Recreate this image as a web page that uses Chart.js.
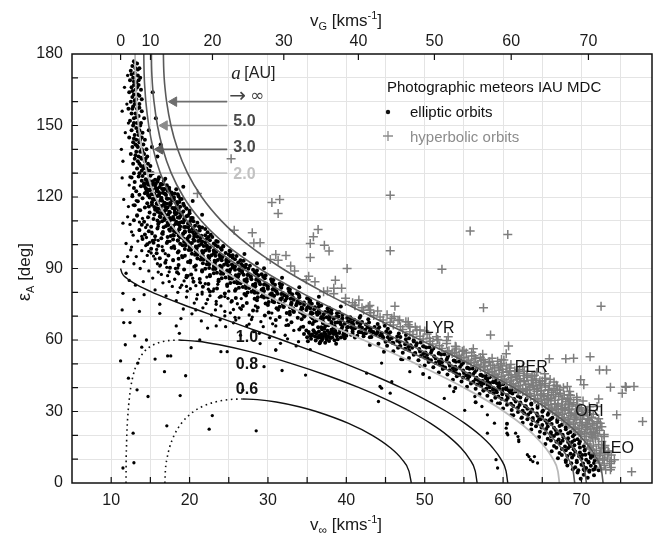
<!DOCTYPE html>
<html>
<head>
<meta charset="utf-8">
<script src="https://cdn.jsdelivr.net/npm/chart.js@4.4.1/dist/chart.umd.min.js"></script>
<style>
  html, body { margin: 0; padding: 0; background: #fff; }
  #wrap { width: 664px; height: 539px; }
</style>
</head>
<body>
<div id="wrap"><canvas id="chart" width="664" height="539"></canvas></div>
<script>
// Meteor radiants: elongation from apex vs. pre-atmospheric velocity

// Axis ticks
const bottomTicks = [10, 20, 30, 40, 50, 60, 70];
const leftTicks = [0, 30, 60, 90, 120, 150, 180];
const topTicksVG = [0, 10, 20, 30, 40, 50, 60, 70];
const escapeVelocity = 11.2;
const gridV = [10, 15, 20, 25, 30, 35, 40, 45, 50, 55, 60, 65, 70, 75];
const gridE = [10, 20, 30, 40, 50, 60, 70, 80, 90, 100, 110, 120, 130, 140, 150, 160, 170];

// Curves of constant semi-major axis a [AU]: [v_inf, eps_A]
const curveInf = [[16.66,180],[16.69,175],[16.76,170],[16.89,165],[17.07,160],[17.62,150],[18.48,140],[19.74,130],[21.55,120],[24.06,110],[27.44,100],[31.82,90],[37.13,80],[43.14,70],[49.47,60],[55.68,50],[61.36,40],[66.14,30],[69.75,20],[72.0,10],[72.57,5],[72.76,0]];
const curve5 = [[15.13,180],[15.15,175],[15.21,170],[15.31,165],[15.46,160],[15.9,150],[16.6,140],[17.66,130],[19.23,120],[21.48,110],[24.65,100],[28.9,90],[34.19,80],[40.29,70],[46.77,60],[53.14,50],[58.96,40],[63.86,30],[67.55,20],[69.85,10],[70.43,5],[70.63,0]];
const curve3 = [[14.16,180],[14.18,175],[14.22,170],[14.31,165],[14.42,160],[14.79,150],[15.37,140],[16.27,130],[17.64,120],[19.68,110],[22.65,100],[26.77,90],[32.05,80],[38.23,70],[44.82,60],[51.33,50],[57.26,40],[62.25,30],[66.01,20],[68.35,10],[68.94,5],[69.14,0]];
const curve2 = [[13.05,180],[13.06,175],[13.09,170],[13.15,165],[13.23,160],[13.48,150],[13.9,140],[14.57,130],[15.63,120],[17.32,110],[19.95,100],[23.85,90],[29.1,80],[35.4,70],[42.19,60],[48.9,50],[55.01,40],[60.14,30],[63.99,20],[66.38,10],[66.99,5],[67.19,0]];
const curve1 = [[11.2,90],[11.39,88],[11.95,86],[12.35,85],[13.35,83],[15.25,80],[16.7,78],[19.05,75],[23.25,70],[27.55,65],[31.82,60],[35.95,55],[39.89,50],[43.58,45],[46.98,40],[50.06,35],[52.78,30],[55.13,25],[57.08,20],[58.61,15],[59.72,10],[60.38,5],[60.6,0]];
const curve08Solid = [[18.63,60],[20.96,59.5],[23.81,58],[27.81,55],[33.12,50],[37.65,45],[41.63,40],[45.13,35],[48.17,30],[50.75,25],[52.88,20],[54.54,15],[55.73,10],[56.45,5],[56.69,0]];
const curve08Dotted = [[11.89,0],[11.9,5],[11.91,10],[11.95,15],[11.99,20],[12.06,25],[12.16,30],[12.3,35],[12.49,40],[12.79,45],[13.27,50],[14.19,55],[15.39,58],[16.8,59.5],[18.63,60]];
const curve06Solid = [[26.77,35.26],[28.64,35],[31.06,34],[33.98,32],[36.17,30],[40.29,25],[43.31,20],[45.53,15],[47.08,10],[47.99,5],[48.29,0]];
const curve06Dotted = [[16.85,0],[16.91,5],[17.11,10],[17.46,15],[18.03,20],[18.94,25],[20.52,30],[21.57,32],[23.28,34],[25.07,35],[26.77,35.26]];

// Label arrows (head first)
const arrowInf = [[18.0,160],[24.8,160]];
const arrow5 = [[16.8,150],[24.8,150]];
const arrow3 = [[16.2,140],[24.8,140]];
const arrow2 = [[14.6,130],[24.8,130]];

// Elliptic orbits
const ellipticTop = [[12.9,177],[13.3,176],[12.7,175],[13.1,174],[13.6,174],[12.5,173],[13.0,172],[13.4,171],[12.8,170],[13.7,170],[12.4,169],[13.2,168],[12.9,167],[13.5,167],[12.6,166],[13.1,165],[13.8,165],[12.3,164],[12.9,163],[13.4,163],[12.7,162],[13.2,161],[13.9,161],[12.5,160],[13.0,159],[13.6,159],[12.8,158],[13.3,157],[12.2,157],[13.9,156],[12.6,155],[13.1,155],[13.5,154],[12.9,153],[14.2,153],[12.4,152],[13.3,151],[13.8,151],[12.8,150],[13.2,149],[13.6,148],[12.6,148],[14.0,147],[13.0,146],[13.5,146],[12.3,145],[13.9,145],[13.2,144],[14.3,144],[12.8,143],[13.6,143],[13.1,142],[14.1,142],[13.4,141],[12.7,141],[13.9,140],[14.5,140],[13.2,139],[13.7,139],[12.5,138],[14.2,138],[13.5,137],[14.6,137],[13.0,136],[13.9,136],[14.3,135],[13.4,135],[12.8,134],[14.7,134],[13.8,133],[14.2,133],[15.0,133],[13.3,132],[14.5,132],[13.9,131],[14.9,131],[12.9,130],[14.3,130],[15.3,130],[13.6,130],[15.7,153],[15.3,164],[16.3,142],[15.9,137],[14.8,148],[15.2,141],
[13.0,176.5],[13.4,173.5],[12.6,171.5],[13.5,169],[12.9,168.5],[13.3,166],[12.7,164.5],[13.6,162.5],[13.0,160.5],[12.7,157],[13.6,157.5],[13.2,153.5],[12.9,151],[13.7,150],[13.4,147.5],[12.9,144.5],[13.7,144],[13.3,141.5],[14.0,139],[13.1,137.5],[13.8,136.5],[14.4,136],[13.6,134],[14.1,132],[14.7,131],[15.1,129.6],[14.0,128.8],[13.9,126.8],[14.2,124.6],[14.5,122.3]];
const ellipticBand = [[13.5,128.6],[14.4,127.5],[15.0,128.9],[15.6,127.2],[16.1,128.3],[16.9,127.7],[12.6,128.2],
[13.0,126.3],[14.2,125.4],[14.8,126.8],[15.4,125.6],[15.9,126.5],[16.5,125.2],[14.6,126.0],
[13.8,124.5],[14.5,123.2],[15.1,124.9],[15.7,123.6],[16.2,124.2],[16.8,123.4],[12.9,123.8],[19.2,124.3],
[13.2,122.4],[14.3,121.6],[14.9,122.8],[15.5,121.3],[16.0,122.2],[16.6,121.8],[17.2,122.6],[18.1,121.5],
[12.7,120.3],[14.0,119.5],[14.7,120.7],[15.3,119.2],[15.9,120.4],[16.4,119.6],[17.0,120.8],[17.6,119.3],[18.6,120.2],[13.6,120.9],
[13.4,118.2],[14.6,117.4],[15.4,118.8],[15.9,117.6],[16.5,118.4],[17.1,117.2],[17.8,118.6],[18.7,117.9],[20.4,118.3],
[13.0,116.5],[14.3,115.6],[15.2,116.8],[15.8,115.3],[16.4,116.2],[16.9,115.8],[17.5,116.6],[18.2,115.4],[19.3,116.3],[14.8,116.0],
[13.7,114.4],[14.9,113.5],[15.6,114.7],[16.2,113.3],[16.8,114.1],[17.4,113.8],[18.1,114.6],[18.9,113.2],[20.0,114.2],
[13.3,112.3],[14.7,111.5],[15.5,112.7],[16.3,111.6],[16.9,112.4],[17.5,111.2],[18.2,112.8],[18.8,111.9],[19.8,112.1],[21.6,112.6],
[12.9,110.2],[14.2,109.6],[15.4,110.8],[16.1,109.3],[16.8,110.4],[17.4,109.7],[18.0,110.6],[18.7,109.2],[19.4,110.3],[20.5,109.8],[15.9,110.1],
[13.9,108.4],[15.1,107.5],[16.0,108.7],[16.7,107.3],[17.3,108.2],[17.9,107.8],[18.6,108.6],[19.3,107.4],[20.1,108.3],[21.2,107.6],
[13.6,106.2],[14.8,105.6],[15.9,106.8],[16.6,105.3],[17.4,106.4],[18.0,105.7],[18.7,106.5],[19.4,105.2],[20.0,106.1],[20.8,105.8],[22.0,106.6],
[14.3,104.3],[15.6,103.5],[16.5,104.7],[17.2,103.2],[17.9,104.1],[18.6,103.8],[19.2,104.6],[19.9,103.3],[20.6,104.4],[21.5,103.7],[22.7,104.2],[17.6,103.6],
[14.0,102.4],[15.3,101.6],[16.4,102.7],[17.2,101.3],[17.9,102.2],[18.5,101.7],[19.2,102.6],[19.8,101.4],[20.5,102.3],[21.3,101.8],[22.2,102.5],[23.4,101.5],
[14.6,100.2],[16.0,99.5],[17.1,100.7],[18.0,99.3],[18.8,100.4],[19.5,99.8],[20.1,100.6],[20.8,99.2],[21.5,100.3],[22.2,99.7],[23.1,100.5],[24.3,99.4],[15.4,100.8],
[15.1,98.3],[16.6,97.6],[17.7,98.7],[18.6,97.2],[19.4,98.2],[20.2,97.8],[20.9,98.6],[21.6,97.3],[22.3,98.4],[23.1,97.7],[24.0,98.5],[25.1,97.4],
[15.8,96.4],[17.3,95.5],[18.5,96.7],[19.4,95.3],[20.3,96.2],[21.0,95.8],[21.7,96.6],[22.4,95.2],[23.1,96.3],[23.8,95.7],[24.6,96.5],[25.5,95.6],[27.0,96.1],
[16.2,94.3],[17.9,93.6],[19.1,94.7],[20.1,93.3],[21.0,94.2],[21.8,93.8],[22.5,94.6],[23.2,93.2],[23.9,94.4],[24.7,93.7],[25.5,94.5],[26.5,93.5],[18.6,94.1],
[16.9,92.4],[18.6,91.5],[19.8,92.7],[20.8,91.3],[21.7,92.2],[22.5,91.8],[23.2,92.6],[23.9,91.2],[24.7,92.3],[25.4,91.7],[26.2,92.5],[27.2,91.6],[28.6,92.2],
[17.5,90.3],[19.3,89.6],[20.6,90.7],[21.6,89.3],[22.5,90.2],[23.3,89.8],[24.0,90.6],[24.8,89.2],[25.5,90.4],[26.3,89.7],[27.1,90.5],[28.1,89.5],[22.0,89.9],[29.5,90.1],
[18.4,88.4],[20.2,87.5],[21.6,88.7],[22.6,87.3],[23.5,88.2],[24.3,87.8],[25.1,88.6],[25.9,87.2],[26.7,88.3],[27.5,87.7],[28.3,88.5],[29.2,87.6],[23.1,88.0],
[19.6,86.3],[21.3,85.6],[22.6,86.7],[23.7,85.3],[24.6,86.2],[25.4,85.8],[26.2,86.6],[27.0,85.2],[27.8,86.4],[28.6,85.7],[29.4,86.5],[30.4,85.5],[24.1,85.9],[31.8,86.1],
[20.5,84.4],[22.4,83.5],[23.7,84.7],[24.8,83.3],[25.7,84.2],[26.5,83.8],[27.3,84.6],[28.1,83.2],[28.9,84.3],[29.7,83.7],[30.5,84.5],[31.5,83.6],[25.2,83.9],
[21.7,82.3],[23.5,81.6],[24.8,82.7],[25.9,81.3],[26.8,82.2],[27.6,81.8],[28.4,82.6],[29.2,81.2],[30.0,82.4],[30.8,81.7],[31.6,82.5],[32.6,81.5],[26.3,81.9],[34.0,82.1],
[22.6,80.4],[24.5,79.5],[25.8,80.7],[27.0,79.3],[27.9,80.2],[28.7,79.8],[29.5,80.6],[30.3,79.2],[31.1,80.3],[31.9,79.7],[32.7,80.5],[33.7,79.6],[27.4,79.9],
[24.0,78.3],[25.9,77.6],[27.2,78.7],[28.3,77.3],[29.2,78.2],[30.0,77.8],[30.8,78.6],[31.6,77.2],[32.4,78.4],[33.2,77.7],[34.0,78.5],[35.0,77.5],[28.7,77.9],[36.5,78.1],
[25.4,76.4],[27.3,75.5],[28.6,76.7],[29.7,75.3],[30.6,76.2],[31.4,75.8],[32.2,76.6],[33.0,75.2],[33.8,76.3],[34.6,75.7],[35.4,76.5],[36.4,75.6],[30.1,75.9],
[26.8,74.3],[28.7,73.6],[30.0,74.7],[31.1,73.3],[32.0,74.2],[32.8,73.8],[33.6,74.6],[34.4,73.2],[35.2,74.4],[36.0,73.7],[36.8,74.5],[37.8,73.5],[31.5,73.9],[39.3,74.1],
[28.1,72.4],[30.1,71.5],[31.3,72.7],[32.4,71.3],[33.3,72.2],[34.1,71.8],[34.9,72.6],[35.7,71.2],[36.5,72.3],[37.3,71.7],[38.1,72.5],[39.1,71.6],[32.8,71.9],
[29.6,70.3],[31.5,69.6],[32.8,70.7],[33.8,69.3],[34.7,70.2],[35.5,69.8],[36.3,70.6],[37.1,69.2],[37.9,70.4],[38.7,69.7],[39.5,70.5],[40.5,69.5],[41.8,70.1],
[31.0,68.4],[33.0,67.5],[34.3,68.7],[35.3,67.3],[36.2,68.2],[37.0,67.8],[37.8,68.6],[38.6,67.2],[39.4,68.3],[40.2,67.7],[41.0,68.5],[42.0,67.6],
[32.6,66.3],[34.5,65.6],[35.7,66.7],[36.8,65.3],[37.7,66.2],[38.5,65.8],[39.3,66.6],[40.1,65.2],[40.9,66.4],[41.7,65.7],[42.5,66.5],[43.6,65.5],[44.9,66.0],
[34.0,64.4],[35.9,63.5],[37.2,64.7],[38.3,63.3],[39.2,64.2],[40.0,63.8],[40.8,64.6],[41.6,63.2],[42.4,64.3],[43.2,63.7],[44.0,64.5],[45.1,63.6],
[35.6,62.3],[37.4,61.6],[38.7,62.7],[39.7,61.3],[40.6,62.2],[41.4,61.8],[42.2,62.6],[43.0,61.2],[43.8,62.4],[44.6,61.7],[45.4,62.5],[46.5,61.5],[47.6,62.1]];
const ellipticCore = [[14.5,127.1],[15.3,126.6],[16.0,127.4],[16.7,126.8],[14.7,125.2],[15.6,124.7],[16.3,125.5],[17.1,124.9],[14.9,123.1],[15.8,122.5],[16.5,123.4],[17.4,122.9],[18.3,123.2],[15.1,121.2],[16.1,120.6],[16.8,121.5],[17.7,120.9],[15.5,119.1],[16.3,118.6],[17.1,119.4],[18.0,118.9],[19.0,119.2],[15.8,117.2],[16.7,116.7],[17.5,117.5],[18.4,116.9],[16.1,115.1],[17.0,114.6],[17.8,115.4],[18.6,114.8],[19.6,115.2],[16.5,113.2],[17.3,112.7],[18.1,113.5],[19.0,112.9],[16.8,111.1],[17.7,110.6],[18.5,111.4],[19.3,110.8],[20.2,111.2],[17.2,109.2],[18.2,108.7],[19.0,109.5],[19.8,108.9],[17.7,107.1],[18.7,106.6],[19.5,107.4],[20.4,106.8],[21.3,107.2],[18.3,105.2],[19.2,104.7],[20.0,105.5],[20.9,104.9],[18.8,103.1],[19.7,102.6],[20.6,103.4],[21.4,102.8],[22.4,103.2],[19.3,101.2],[20.3,100.7],[21.1,101.5],[22.0,100.9],[20.0,99.1],[20.9,98.6],[21.8,99.4],[22.6,98.8],[23.6,99.2],[20.8,97.2],[21.7,96.7],[22.5,97.5],[23.4,96.9],[21.5,95.1],[22.5,94.6],[23.3,95.4],[24.2,94.8],[25.2,95.2],[22.3,93.2],[23.3,92.7],[24.1,93.5],[25.0,92.9],[23.1,91.1],[24.1,90.6],[24.9,91.4],[25.8,90.8],[26.8,91.2],[24.0,89.2],[25.0,88.7],[25.8,89.5],[26.7,88.9],[25.1,87.1],[26.0,86.6],[26.9,87.4],[27.8,86.8],[28.8,87.2],[26.1,85.2],[27.1,84.7],[27.9,85.5],[28.8,84.9],[27.2,83.1],[28.1,82.6],[29.0,83.4],[29.9,82.8],[30.9,83.2],[28.2,81.2],[29.2,80.7],[30.0,81.5],[30.9,80.9],[29.4,79.1],[30.4,78.6],[31.2,79.4],[32.1,78.8],[33.1,79.2],[30.6,77.2],[31.6,76.7],[32.4,77.5],[33.3,76.9],[31.9,75.1],[32.9,74.6],[33.7,75.4],[34.6,74.8],[35.6,75.2],[33.2,73.2],[34.2,72.7],[35.0,73.5],[35.9,72.9],[34.4,71.1],[35.4,70.6],[36.2,71.4],[37.1,70.8],[38.1,71.2],[35.7,69.2],[36.7,68.7],[37.5,69.5],[38.4,68.9],[37.1,67.1],[38.1,66.6],[38.9,67.4],[39.8,66.8],[40.8,67.2],[38.4,65.2],[39.4,64.7],[40.2,65.5],[41.1,64.9],[39.8,63.1],[40.8,62.6],[41.6,63.4],[42.5,62.8],[43.5,63.2]];
const ellipticDense = [[14.2,125.8],[14.9,125.1],[15.7,125.6],[16.4,125.3],
[14.4,123.8],[15.2,123.1],[15.9,123.6],[16.7,123.3],[17.4,123.9],
[14.6,121.8],[15.4,121.1],[16.2,121.6],[16.9,121.3],[17.7,121.9],[18.5,121.2],
[14.9,119.8],[15.6,119.1],[16.4,119.6],[17.2,119.3],[18.0,119.9],[18.8,119.2],
[15.2,117.8],[16.0,117.1],[16.8,117.6],[17.6,117.3],[18.4,117.9],[19.2,117.2],
[15.5,115.8],[16.3,115.1],[17.2,115.6],[18.0,115.3],[18.8,115.9],[19.6,115.2],
[15.9,113.8],[16.7,113.1],[17.5,113.6],[18.4,113.3],[19.2,113.9],[20.0,113.2],
[16.2,111.8],[17.0,111.1],[17.9,111.6],[18.7,111.3],[19.6,111.9],[20.4,111.2],
[16.5,109.8],[17.4,109.1],[18.3,109.6],[19.2,109.3],[20.1,109.9],[21.0,109.2],
[17.0,107.8],[17.9,107.1],[18.8,107.6],[19.8,107.3],[20.7,107.9],[21.6,107.2],
[17.5,105.8],[18.5,105.1],[19.4,105.6],[20.4,105.3],[21.3,105.9],[22.3,105.2],
[18.0,103.8],[19.0,103.1],[20.0,103.6],[21.0,103.3],[22.0,103.9],[22.9,103.2],
[18.5,101.8],[19.5,101.1],[20.6,101.6],[21.6,101.3],[22.6,101.9],[23.6,101.2],
[19.1,99.8],[20.1,99.1],[21.2,99.6],[22.2,99.3],[23.3,99.9],[24.3,99.2],
[19.9,97.8],[20.9,97.1],[22.0,97.6],[23.1,97.3],[24.1,97.9],[25.2,97.2],
[20.7,95.8],[21.7,95.1],[22.8,95.6],[23.9,95.3],[25.0,95.9],[26.0,95.2],
[21.4,93.8],[22.5,93.1],[23.6,93.6],[24.7,93.3],[25.8,93.9],[26.9,93.2],
[22.2,91.8],[23.3,91.1],[24.4,91.6],[25.5,91.3],[26.6,91.9],[27.7,91.2],
[23.0,89.8],[24.1,89.1],[25.2,89.6],[26.4,89.3],[27.5,89.9],[28.6,89.2],
[24.0,87.8],[25.2,87.1],[26.3,87.6],[27.4,87.3],[28.5,87.9],[29.7,87.2],
[25.1,85.8],[26.2,85.1],[27.3,85.6],[28.5,85.3],[29.6,85.9],[30.7,85.2],
[26.1,83.8],[27.2,83.1],[28.4,83.6],[29.5,83.3],[30.6,83.9],[31.8,83.2],
[27.2,81.8],[28.3,81.1],[29.4,81.6],[30.6,81.3],[31.7,81.9],[32.8,81.2],
[28.3,79.8],[29.4,79.1],[30.5,79.6],[31.7,79.3],[32.8,79.9],[33.9,79.2],
[29.5,77.8],[30.7,77.1],[31.8,77.6],[32.9,77.3],[34.0,77.9],[35.2,77.2],
[30.8,75.8],[31.9,75.1],[33.0,75.6],[34.1,75.3],[35.3,75.9],[36.4,75.2],
[32.0,73.8],[33.2,73.1],[34.3,73.6],[35.4,73.3],[36.5,73.9],[37.6,73.2],
[33.3,71.8],[34.4,71.1],[35.5,71.6],[36.6,71.3],[37.7,71.9],[38.8,71.2],
[34.6,69.8],[35.7,69.1],[36.8,69.6],[37.9,69.3],[39.0,69.9],[40.1,69.2],
[35.9,67.8],[37.0,67.1],[38.1,67.6],[39.2,67.3],[40.3,67.9],[41.4,67.2],
[37.3,65.8],[38.4,65.1],[39.5,65.6],[40.6,65.3],[41.7,65.9],[42.7,65.2],
[38.6,63.8],[39.7,63.1],[40.8,63.6],[41.9,63.3],[43.0,63.9],[44.0,63.2],
[40.0,61.8],[41.1,61.1],[42.2,61.6],[43.2,61.3],[44.3,61.9],[45.3,61.2]];
const ellipticLyr = [[39.5,69.1],[40.6,68.8],[41.7,69.3],[42.8,68.7],[40.7,67.2],[41.8,66.8],[42.9,67.3],[44.0,66.7],[42.0,65.1],[43.1,64.8],[44.2,65.3],[45.3,64.7],[43.4,63.2],[44.5,62.8],[45.6,63.3],[46.7,62.7],[44.7,61.1],[45.8,60.8],[46.9,61.3],[48.0,60.7],[45.5,60.1],[46.5,59.7],[47.6,60.3],[48.6,59.9],
[46.9,57.5],[47.9,57.1],[48.9,57.7],[49.9,57.3],[50.6,57.0],[48.8,54.5],[49.8,54.1],[50.8,54.7],[51.8,54.3],[52.5,54.0],[50.8,51.5],[51.8,51.1],[52.8,51.7],[53.8,51.3],[54.4,51.0],[52.6,48.5],[53.6,48.1],[54.5,48.7],[55.4,48.3],[56.1,48.0],[54.4,45.5],[55.3,45.1],[56.2,45.7],[57.1,45.3],[57.8,45.0],[56.2,42.5],[57.1,42.1],[58.0,42.7],[58.8,42.3],[59.5,42.0],[57.9,39.5],[58.7,39.1],[59.5,39.7],[60.4,39.3],[61.1,39.0]];
const ellipticLow = [[12.8,104],[13.4,101.5],[12.6,99],[13.9,97.5],[14.5,103],[13.2,95],[15.1,96.5],[14.2,93],[12.9,92],[15.6,94],[16.3,91.5],[13.7,90],[14.8,89],[16.0,88.5],[15.3,86],[17.2,87],[18.1,85.5],[16.6,84],[14.1,84.5],[17.8,82.5],[19.0,83],[15.6,81],[18.5,80],[20.1,81.5],[17.0,78.5],[19.6,78],[21.0,79],[18.3,76.5],[20.6,75.5],[22.3,77],[16.2,75],[19.2,73],[21.7,73.5],[23.4,75],[20.3,71],[22.8,70.5],[24.5,72],[18.9,69],[21.5,68],[23.9,68.5],[25.8,69.5],[22.3,65],[24.6,65.6],[23.4,65.9],[25.9,68.4],[27.3,66],[29.1,67.7],[31.0,65.9],[28.2,63.5],[26.5,62],[30.2,61],[32.5,60.5],[29.0,58.5],[33.6,57.5],[31.0,55.8],[35.4,56],[27.6,70.5],[26.4,73.5],[24.9,77.5],[23.0,80.5],[21.4,84],[19.8,87],[18.2,90],[17.0,93.5],[15.8,98],[14.9,101],[13.6,106],[12.4,108.5],[13.3,112],[12.2,116],[12.7,121],[12.3,125],
[14.6,95.5],[15.9,92],[17.1,90.5],[16.4,87.5],[18.6,87.8],[17.4,84.5],[19.3,84.8],[20.4,85.9],[18.8,82],[20.8,82.8],[22.0,83.6],[19.7,80.5],[21.6,80.1],[23.1,81.4],[20.9,77.2],[22.6,78.6],[23.8,77.9],[22.1,75.3],[24.0,74.3],[25.3,75.9],[23.3,72.6],[25.2,71.4],[26.6,72.9],[24.5,70.1],[26.3,69.3],[27.9,68.6],[25.6,67.2],[27.6,66.7],[29.4,65.6],[28.9,62.8],[30.8,63.4],[32.2,62.0],[31.6,58.6],[33.9,59.3],[16.0,101.8],[15.2,104.6],[14.4,107.2],[14.0,111.0],[13.5,114.6],[13.2,118.5],
[14.6,108.3],[16.0,107.6],[15.2,105.2],[16.6,104.4],[15.6,102.1],[17.5,101.4],[16.5,99.2],[18.1,98.4],[16.9,96.2],[19.0,95.4],[17.9,93.3],[20.1,92.4],[18.5,90.2],[20.8,89.4],[19.6,87.1],[22.2,86.4],[21.3,84.2],[23.6,83.4],[22.4,81.3],[25.0,80.5],[24.5,78.2],[26.6,77.4],[26.1,75.2],[28.4,74.3],[28.6,72.2],[30.5,71.3],[30.3,69.2],[32.4,68.4],[32.3,66.1],[34.2,65.4],
[13.9,103.5],[14.8,97.2],[16.2,91.0],[17.4,88.6],[19.6,82.5],[21.6,79.3],[23.4,76.2],[25.6,72.8],[28.0,69.6],[30.6,66.8],[33.3,64.0],[13.6,109.5],[14.4,99.6],[15.4,95.2]];
const ellipticLeft = [[11.4,156],[12.0,159],[11.3,140],[11.5,135],[11.4,128],[12.4,128.4],[11.6,119],[12.8,116.6],[12.1,111.7],[11.5,109],[12.6,105.4],[11.9,100.5],[12.5,97.8],[11.6,92.9],[12.1,95],[11.8,147],[12.2,151],[11.7,166],[12.1,171],[11.9,88],[12.3,85],[11.5,79.6],[11.4,72.6],[11.6,67.3],[12.4,67.3],[13.0,61.7],[14.5,60.0],[11.2,51.2],[13.4,50.3],[14.7,36.3],[13.3,39.1],[12.8,20.9],[11.5,6.3],[12.9,8.5],[12.2,44],[11.8,58],[13.6,72],[12.9,77],[14.2,79],[13.1,83]];
const ellipticSparse = [[16.8,46.7],[17.2,53.3],[17.6,53.3],[18.8,36.7],[18.3,65.9],[18.7,62.8],[20.2,56.8],[17.1,24.0],[22.5,22.6],[22.9,28.3],[24.0,55.1],[24.8,55.1],[28.5,21.9],[29.5,48.8],[31.8,47.2],[34.8,45.3],[31.0,55.8],[20.8,72.6],[35.2,62.8],[44.5,50.3],[44.3,40.5],[45.6,37.7],[44.1,34.2],[42.6,46.1],[13.9,57],[15.6,52],[19.5,45],[26.8,39],[21.3,60],[16.2,71.2]];
const ellipticBlob = [[34.6,62.5],[35.0,61.2],[35.2,63.4],[35.5,60.5],[35.6,62.0],[35.8,64.1],[36.0,61.5],[36.1,59.8],[36.2,62.8],[36.4,60.9],[36.5,63.6],[36.6,61.9],[36.7,59.3],[36.8,62.4],[36.9,64.5],[37.0,60.6],[37.1,61.7],[37.2,63.1],[37.3,58.8],[37.4,62.2],[37.5,60.1],[37.6,63.9],[37.7,61.4],[37.8,59.6],[37.9,62.7],[38.0,60.8],[38.1,64.3],[38.2,61.1],[38.4,62.5],[38.5,59.9],[38.6,63.3],[38.8,61.6],[38.9,60.3],[39.1,62.9],[39.3,61.0],[39.6,62.2],[36.3,61.3],[36.9,60.0],[37.5,61.0],[37.8,62.9],[36.0,63.0],[35.4,61.8],[38.3,63.6],[37.0,64.8],[36.6,58.6],[35.1,59.5],[34.9,64.0],[39.8,60.7],[38.7,58.4],[36.4,65.3],[37.3,62.5],[36.7,61.1],[37.9,61.2],[38.0,63.0]];
const ellipticRight = [[44.1,58.4],[45.2,57.6],[46.0,58.7],[46.8,57.3],[47.5,58.2],[48.2,57.8],[49.0,58.6],[49.8,57.4],[43.0,57.9],
[46.0,55.3],[47.2,54.6],[48.0,55.7],[48.7,54.3],[49.4,55.2],[50.1,54.8],[50.9,55.6],[51.8,54.5],[44.8,55.1],
[48.0,52.4],[49.2,51.5],[50.0,52.7],[50.7,51.3],[51.4,52.2],[52.1,51.8],[52.9,52.6],[53.7,51.4],[47.0,51.9],[50.4,52.1],
[50.0,49.3],[51.1,48.6],[51.9,49.7],[52.6,48.3],[53.2,49.2],[53.9,48.8],[54.7,49.6],[55.5,48.4],[52.3,49.0],
[51.8,46.4],[52.9,45.5],[53.7,46.7],[54.4,45.3],[55.0,46.2],[55.7,45.8],[56.4,46.6],[57.2,45.4],[54.0,46.0],[49.8,45.7],
[53.6,43.3],[54.7,42.6],[55.5,43.7],[56.2,42.3],[56.8,43.2],[57.4,42.8],[58.0,43.6],[58.7,42.4],[57.1,42.1],[57.8,43.9],[58.3,42.0],[59.1,43.1],[56.5,43.5],
[55.4,40.4],[56.5,39.5],[57.2,40.7],[57.8,39.3],[58.3,40.2],[58.8,39.8],[59.4,40.6],[60.0,39.4],[58.0,41.2],[59.6,41.0],[60.4,40.1],[57.5,38.8],[53.9,39.9],
[57.0,37.3],[58.0,36.6],[58.8,37.7],[59.4,36.3],[59.9,37.2],[60.5,36.8],[61.2,37.6],[61.9,36.4],[59.2,38.1],[60.9,38.0],
[58.5,34.4],[59.6,33.5],[60.4,34.7],[61.0,33.3],[61.6,34.2],[62.2,33.8],[62.9,34.6],[63.6,33.4],[56.5,33.9],
[60.0,31.3],[61.1,30.6],[61.9,31.7],[62.5,30.3],[63.1,31.2],[63.7,30.8],[64.4,31.6],[65.1,30.4],[62.8,32.2],
[61.3,28.4],[62.4,27.5],[63.2,28.7],[63.8,27.3],[64.4,28.2],[65.0,27.8],[65.7,28.6],[66.3,27.4],[64.8,26.8],
[62.5,25.3],[63.6,24.6],[64.4,25.7],[65.0,24.3],[65.6,25.2],[66.2,24.8],[66.9,25.6],[67.5,24.4],[65.9,26.3],[60.5,24.9],
[63.6,22.4],[64.7,21.5],[65.5,22.7],[66.1,21.3],[66.7,22.2],[67.3,21.8],[68.0,22.6],[68.6,21.4],[67.0,20.8],
[64.6,19.3],[65.7,18.6],[66.5,19.7],[67.1,18.3],[67.7,19.2],[68.3,18.8],[68.9,19.6],[69.5,18.4],
[65.4,16.4],[66.5,15.5],[67.3,16.7],[67.9,15.3],[68.5,16.2],[69.1,15.8],[69.7,16.6],[70.3,15.4],[68.8,17.2],
[66.2,13.3],[67.2,12.6],[68.0,13.7],[68.6,12.3],[69.2,13.2],[69.8,12.8],[70.4,13.6],[71.0,12.4],[70.1,11.8],
[67.0,10.4],[68.0,9.5],[68.8,10.7],[69.4,9.3],[70.0,10.2],[70.6,9.8],[71.2,10.6],[71.7,9.4],[70.9,8.6],[71.5,11.3],
[68.2,7.3],[69.2,6.6],[70.0,7.7],[70.6,6.3],[71.2,7.2],[71.8,6.8],[70.4,5.2],[71.5,5.6],
[69.5,4.4],[70.3,3.5],[71.0,4.7],[71.6,3.3],[70.8,2.2],[69.9,1.8]];
const ellipticRightDense = [[45.0,59.3],[45.9,58.8],[46.8,59.2],[47.7,58.7],[48.6,59.4],[49.5,58.9],
[46.6,56.8],[47.5,56.3],[48.4,56.7],[49.3,56.2],[50.2,56.9],[51.1,56.4],
[48.6,53.8],[49.5,53.3],[50.3,53.7],[51.2,53.2],[52.1,53.9],[53.0,53.4],
[50.5,50.8],[51.4,50.3],[52.2,50.7],[53.1,50.2],[54.0,50.9],[54.9,50.4],
[52.3,47.8],[53.2,47.3],[54.0,47.7],[54.9,47.2],[55.7,47.9],[56.6,47.4],
[54.1,44.8],[54.9,44.3],[55.7,44.7],[56.6,44.2],[57.4,44.9],[58.3,44.4],
[55.9,41.8],[56.7,41.3],[57.5,41.7],[58.3,41.2],[59.2,41.9],[60.0,41.4],
[57.5,38.8],[58.3,38.3],[59.1,38.7],[59.9,38.2],[60.7,38.9],[61.6,38.4],
[59.0,35.8],[59.8,35.3],[60.6,35.7],[61.4,35.2],[62.2,35.9],[63.0,35.4],
[60.5,32.8],[61.3,32.3],[62.1,32.7],[62.9,32.2],[63.6,32.9],[64.4,32.4],
[61.9,29.8],[62.7,29.3],[63.5,29.7],[64.3,29.2],[65.0,29.9],[65.8,29.4],
[63.1,26.8],[63.8,26.3],[64.6,26.7],[65.4,26.2],[66.1,26.9],[66.9,26.4],
[64.2,23.8],[64.9,23.3],[65.7,23.7],[66.5,23.2],[67.2,23.9],[68.0,23.4],
[65.3,20.8],[66.1,20.3],[66.8,20.7],[67.6,20.2],[68.3,20.9],[69.1,20.4],
[66.1,17.8],[66.8,17.3],[67.6,17.7],[68.3,17.2],[69.1,17.9],[69.8,17.4],
[66.8,14.8],[67.5,14.3],[68.3,14.7],[69.0,14.2],[69.8,14.9],[70.5,14.4],
[67.5,11.8],[68.2,11.3],[69.0,11.7],[69.7,11.2],[70.5,11.9],[71.2,11.4],
[68.0,8.8],[68.7,8.3],[69.4,8.7],[70.2,8.2],[70.9,8.9],[71.6,8.4],
[68.9,5.8],[69.6,5.3],[70.3,5.7],[71.0,5.2],[71.7,5.9],[72.2,5.4]];
const ellipticRightSparse = [[48.1,46.7],[49.4,49.1],[45.8,42.5],[44.5,39.8],[53.2,40.7],[53.7,38.4],[56.4,36.3],[57.3,32.1],[58.0,20.9],[58.9,25.1],[60.4,23.0],[60.6,20.2],[61.6,20.9],[62.0,18.1],[63.1,11.9],[63.5,9.8],[64.0,11.1],[64.4,8.4],[59.1,9.8],[59.3,6.3],[61.0,28.6],[62.3,27.2],[66.1,19.5],[67.3,17.0],[68.6,15.3],[70.3,7.0],[58.0,28.6],[59.3,33.5],[60.5,20.9],[61.9,19.5],[63.3,11.1],[63.8,9.0],[62.0,17.4],[50.6,44.2],[47.2,51.8],[55.1,30.5],[52.5,35.5]];

// Hyperbolic orbits
const hyperbolicBand = [[34.9,85.3],[36.0,84.4],[37.6,80.6],[38.4,79.4],[39.9,76.2],[40.8,75.6],[41.6,76.8],[41.1,74.4],[42.0,73.5],[43.0,74.5],[42.2,72.5],[43.1,71.4],[44.0,72.2],[43.5,70.3],[44.3,69.6],[45.2,70.6],[46.1,69.9],[44.7,68.4],[45.6,67.5],[46.6,68.2],[47.6,67.7],[46.0,66.3],[46.9,65.6],[47.9,66.4],[48.8,65.5],[47.2,64.4],[48.1,63.5],[49.0,64.2],[50.0,63.8],[48.5,62.3],[49.4,61.6],[50.3,62.5],[51.5,61.4],[49.8,60.4],[50.7,59.5],[51.6,60.2],[52.8,59.8],[51.0,58.3],[51.9,57.6],[52.8,58.5],[53.9,57.4],[52.2,56.4],[53.1,55.5],[54.0,56.2],[55.0,55.7],[56.2,56.3],[53.5,54.3],[54.4,53.6],[55.3,54.5],[56.3,53.4],[57.4,54.0],[54.7,52.4],[55.6,51.5],[56.5,52.2],[57.5,51.7],[58.6,52.3],[59.8,51.8],[55.9,50.3],[56.8,49.6],[57.7,50.5],[58.7,49.4],[59.7,50.1],[61.0,49.7],[57.1,48.4],[58.0,47.5],[58.9,48.2],[59.9,47.7],[60.9,48.3],[62.1,47.6],[57.6,49.0],[58.2,46.3],[59.1,45.6],[60.0,46.5],[61.0,45.4],[62.0,46.1],[63.1,45.7],[64.3,46.4],[58.7,45.1],[59.3,44.4],[60.2,43.5],[61.1,44.2],[62.1,43.7],[63.1,44.3],[64.2,43.6],[65.4,44.0],[59.8,43.2],[61.6,44.8],[60.4,42.3],[61.3,41.6],[62.2,42.5],[63.2,41.4],[64.2,42.1],[65.3,41.7],[66.5,42.4],[60.9,41.2],[62.7,42.9],[61.6,40.4],[62.5,39.5],[63.4,40.2],[64.4,39.7],[65.4,40.3],[66.5,39.6],[67.7,40.0],[62.0,39.2],[63.9,40.8],[62.5,38.3],[63.4,37.6],[64.3,38.5],[65.2,37.4],[66.2,38.1],[67.3,37.7],[68.5,38.4],[63.0,37.1],[63.5,36.4],[64.4,35.5],[65.2,36.2],[66.1,35.7],[67.1,36.3],[68.2,35.6],[69.4,36.0],[64.0,35.2],[64.4,34.3],[65.3,33.6],[66.1,34.5],[67.0,33.4],[68.0,34.1],[69.0,33.7],[70.2,34.4],[65.4,32.4],[66.2,31.5],[67.0,32.2],[67.9,31.7],[68.8,32.3],[69.8,31.6],[71.0,32.0],[66.3,30.3],[67.1,29.6],[67.9,30.5],[68.7,29.4],[69.6,30.1],[70.6,29.7],[67.0,28.4],[67.8,27.5],[68.6,28.2],[69.4,27.7],[70.3,28.3],[71.3,27.6],[67.7,26.3],[68.5,25.6],[69.3,26.5],[70.1,25.4],[71.0,26.1],[72.0,25.7],[68.4,24.4],[69.2,23.5],[70.0,24.2],[70.8,23.7],[71.6,24.3],[72.6,23.6],[69.2,22.3],[70.0,21.6],[70.7,22.5],[71.5,21.4],[72.3,22.1],[69.9,20.4],[70.6,19.5],[71.3,20.2],[72.1,19.7],[72.9,20.3],[70.4,18.3],[71.1,17.6],[71.8,18.5],[72.6,17.4],[70.8,16.4],[71.5,15.5],[72.2,16.2],[73.0,15.7],[71.2,14.3],[71.9,13.6],[72.6,14.5],[73.4,13.4],[71.7,12.4],[72.3,11.5],[73.0,12.2],[73.8,11.7],[72.1,10.3],[72.7,9.6],[73.3,10.5],[74.2,9.8],[72.3,8.4],[72.9,7.5],[73.6,8.2],[72.5,6.3],[73.1,5.6],[73.8,6.5],
[63.8,43.0],[65.0,42.8],[66.0,43.4],[64.6,41.0],[65.8,38.9],[66.8,41.0],[67.2,39.0],[66.4,37.0],[67.6,35.0],[68.6,36.8],[65.6,35.0],[66.6,33.0],[68.4,33.0],[69.4,35.0],[67.4,31.0],[68.3,30.9],[69.3,29.0],[70.0,31.0],[63.0,45.0],[64.0,45.2],[65.3,45.8],[61.8,46.8],[60.8,47.0],[62.5,48.8],[58.3,50.9],[61.9,38.6],[62.9,39.1],[64.9,36.8],[70.8,30.5],[71.5,28.8],[72.2,27.0],[70.8,26.8],[71.9,23.2],[71.4,19.0],[72.8,15.0],[73.5,12.8],[71.0,14.9],
[41.1,74.7],[42.8,74.0],[43.0,72.6],[45.8,69.1],[46.8,68.4],[47.9,67.7],[48.1,65.6],[49.4,64.2],[50.6,60.7],[51.7,60.0],[53.0,61.4],[54.0,57.2]];
const hyperbolicDense = [[52.9,55.2],[53.8,54.8],[54.8,55.3],[56.0,54.9],[54.1,53.2],[55.0,52.8],[56.0,53.3],[57.1,52.7],[55.4,51.2],[56.3,50.7],[57.2,51.3],[58.2,50.8],[59.3,51.1],[56.6,49.2],[57.5,48.8],[58.4,49.3],[59.4,48.7],[60.4,49.1],[57.7,47.2],[58.6,46.8],[59.5,47.3],[60.5,46.7],[61.5,47.1],[62.7,46.9],[58.9,45.2],[59.8,44.8],[60.7,45.3],[61.7,44.7],[62.6,45.1],[63.7,44.9],[60.0,43.2],[60.9,42.8],[61.8,43.3],[62.7,42.7],[63.6,43.1],[64.7,42.9],[61.1,41.2],[62.0,40.8],[62.9,41.3],[63.8,40.7],[64.8,41.1],[65.9,40.9],[62.2,39.2],[63.1,38.8],[64.0,39.3],[64.9,38.7],[65.8,39.1],[66.9,38.9],[63.1,37.2],[64.0,36.8],[64.8,37.3],[65.7,36.7],[66.7,37.1],[67.8,36.9],[64.1,35.2],[64.9,34.8],[65.8,35.3],[66.6,34.7],[67.5,35.1],[68.6,34.9],[65.0,33.2],[65.8,32.8],[66.6,33.3],[67.5,32.7],[68.4,33.1],[69.5,32.9],[66.0,31.2],[66.8,30.8],[67.6,31.3],[68.5,30.7],[69.3,31.1],[66.8,29.2],[67.6,28.8],[68.4,29.3],[69.2,28.7],[70.1,29.1],[67.5,27.2],[68.3,26.8],[69.1,27.3],[69.9,26.7],[70.8,27.1],[68.3,25.2],[69.0,24.8],[69.8,25.3],[70.6,24.7],[71.4,25.1],[69.0,23.2],[69.7,22.8],[70.5,23.3],[71.2,22.7],[72.0,23.1],[69.7,21.2],[70.4,20.8],[71.1,21.3],[71.8,20.7]];
const hyperbolicScatter = [[25.3,136],[21.0,121.5],[25.7,106],[28.0,105],[28.2,100.7],[29.0,100.8],[30.5,117.7],[31.5,118.9],[31.3,113.1],[36.4,106.4],[35.8,103.3],[35.4,100.5],[37.2,99.8],[37.8,97.3],[35.4,94.6],[31.0,95.9],[30.3,93.8],[31.3,93.5],[32.3,95.5],[32.9,91.0],[33.4,88.9],[35.2,86.8],[40.1,90.0],[38.6,85.1],[38.4,81.7],[39.4,81.7],[37.1,80.2],[39.9,77.5],[45.6,120.7],[55.8,105.7],[60.6,104.3],[45.6,97.4],[52.2,89.7],[46.2,74.2],[57.5,73.5],[58.4,62.1],[60.7,57.5],[72.5,74.2],[65.9,52.1],[68.0,52.1],[69.0,52.3],[71.1,53.0],[72.3,47.4],[73.2,47.4],[73.7,40.2],[75.6,40.5],[76.7,40.5],[75.2,37.7],[74.5,28.6],[77.8,25.8],[76.4,4.7],[73.7,5.6],[72.4,12.6],[72.2,35.2],[72.0,32.1],[60.4,54.2],[60.1,51.6],[59.7,49.5],[69.9,43.3],[70.3,41.2],[68.2,40.5],[68.4,37.0],[66.9,40.5],[72.4,25.1],[71.6,20.9],[72.9,9.8],[73.8,9.0],[72.9,19.5],[75.7,40.2]];

// Text annotations in data coordinates
const showerLabels = [['LYR', 50.0, 64.6], ['PER', 61.5, 48.3], ['ORI', 69.2, 29.9], ['LEO', 72.6, 14.4]];
const curveLabels = [['1.0', 25.9, 61.1], ['0.8', 25.9, 49.5], ['0.6', 25.9, 39.1]];

const FONT = '"Liberation Sans", Arial, sans-serif';

function toXY(arr) { return arr.map(p => ({ x: p[0], y: p[1] })); }

function curve(points, color, width, dash) {
    return {
        data: toXY(points), showLine: true, borderColor: color, borderWidth: width,
        borderDash: dash || [], pointRadius: 0, cubicInterpolationMode: 'monotone',
        fill: false, order: 0
    };
}

function arrow(points, color, head) {
    return {
        data: toXY(points), showLine: true, borderColor: color, borderWidth: 1.6,
        pointRadius: [head ? 5.5 : 0, 0], pointStyle: 'triangle', rotation: -90,
        pointBackgroundColor: color, pointBorderColor: color, pointBorderWidth: 1,
        order: 0
    };
}

function dots(points, radius) {
    return {
        data: toXY(points), pointStyle: 'circle', pointRadius: radius,
        backgroundColor: '#000', borderWidth: 0, pointBorderWidth: 0, order: 2
    };
}

// rich text: parts = [text, size, dy, weight]
function drawParts(ctx, x, y, parts, align) {
    let total = 0;
    parts.forEach(p => { ctx.font = (p[3] || '') + ' ' + p[1] + 'px ' + FONT; total += ctx.measureText(p[0]).width; });
    let cx = align === 'center' ? x - total / 2 : x;
    ctx.textAlign = 'left';
    parts.forEach(p => {
        ctx.font = (p[3] || '') + ' ' + p[1] + 'px ' + FONT;
        ctx.fillText(p[0], cx, y + p[2]);
        cx += ctx.measureText(p[0]).width;
    });
}

const decorations = {
    id: 'decorations',
    afterDraw(chart) {
        const ctx = chart.ctx;
        const a = chart.chartArea;
        const xs = chart.scales.x, ys = chart.scales.y;
        ctx.save();

        // frame
        ctx.strokeStyle = '#111';
        ctx.lineWidth = 1.5;
        ctx.strokeRect(a.left, a.top, a.right - a.left, a.bottom - a.top);

        // inward ticks
        ctx.lineWidth = 1.2;
        ctx.beginPath();
        gridV.forEach(v => { const px = xs.getPixelForValue(v); ctx.moveTo(px, a.bottom); ctx.lineTo(px, a.bottom - 6); });
        gridE.forEach(e => { const py = ys.getPixelForValue(e); ctx.moveTo(a.left, py); ctx.lineTo(a.left + 6, py); });
        topTicksVG.forEach(g => {
            const px = xs.getPixelForValue(Math.sqrt(g * g + escapeVelocity * escapeVelocity));
            ctx.moveTo(px, a.top); ctx.lineTo(px, a.top + 6);
        });
        ctx.stroke();

        // tick labels
        ctx.fillStyle = '#1a1a1a';
        ctx.font = '16px ' + FONT;
        ctx.textBaseline = 'middle';
        ctx.textAlign = 'center';
        bottomTicks.forEach(v => ctx.fillText(String(v), xs.getPixelForValue(v), a.bottom + 18));
        topTicksVG.forEach(g => ctx.fillText(String(g), xs.getPixelForValue(Math.sqrt(g * g + escapeVelocity * escapeVelocity)), a.top - 12));
        ctx.textAlign = 'right';
        leftTicks.forEach(e => ctx.fillText(String(e), a.left - 9, ys.getPixelForValue(e)));

        // axis titles
        ctx.textBaseline = 'alphabetic';
        drawParts(ctx, 346, 530, [['v', 17, 0], ['\u221E', 12, 4], [' [kms', 17, 0], ['-1', 11, -7], [']', 17, 0]], 'center');
        drawParts(ctx, 346, 26, [['v', 17, 0], ['G', 11, 4], [' [kms', 17, 0], ['-1', 11, -7], [']', 17, 0]], 'center');
        ctx.save();
        ctx.translate(30, 272);
        ctx.rotate(-Math.PI / 2);
        drawParts(ctx, 0, 0, [['\u03B5', 18, 0], ['A', 11, 4], [' [deg]', 17, 0]], 'center');
        ctx.restore();

        // semi-major axis labels
        ctx.textBaseline = 'middle';
        const lx = xs.getPixelForValue(25.2);
        ctx.fillStyle = '#222';
        ctx.font = 'italic 19px "Liberation Serif", "Times New Roman", serif';
        ctx.textAlign = 'left';
        ctx.fillText('a', lx + 1, ys.getPixelForValue(171.6));
        ctx.font = '16px ' + FONT;
        ctx.fillText('[AU]', lx + 14, ys.getPixelForValue(171.6));
        ctx.fillStyle = '#444';
        ctx.font = '20px "DejaVu Sans", sans-serif';
        ctx.fillText('\u2192', lx - 1, ys.getPixelForValue(162.2));
        ctx.font = '17px "DejaVu Sans", sans-serif';
        ctx.fillText('\u221E', lx + 20, ys.getPixelForValue(162.2));
        ctx.font = 'bold 16px ' + FONT;
        ctx.fillStyle = '#4a4a4a';
        ctx.fillText('5.0', lx + 3, ys.getPixelForValue(151.6));
        ctx.fillText('3.0', lx + 3, ys.getPixelForValue(140.6));
        ctx.fillStyle = '#c2c2c2';
        ctx.fillText('2.0', lx + 3, ys.getPixelForValue(129.3));

        ctx.fillStyle = '#111';
        curveLabels.forEach(l => ctx.fillText(l[0], xs.getPixelForValue(l[1]), ys.getPixelForValue(l[2])));

        ctx.font = '16px ' + FONT;
        showerLabels.forEach(l => ctx.fillText(l[0], xs.getPixelForValue(l[1]), ys.getPixelForValue(l[2])));

        // legend
        ctx.font = '15px ' + FONT;
        ctx.fillStyle = '#111';
        ctx.fillText('Photographic meteors IAU MDC', 387, 88);
        ctx.fillText('elliptic orbits', 410, 113);
        ctx.beginPath();
        ctx.arc(388, 112, 2.2, 0, Math.PI * 2);
        ctx.fill();
        ctx.fillStyle = '#8c8c8c';
        ctx.fillText('hyperbolic orbits', 410, 138);
        ctx.strokeStyle = '#8c8c8c';
        ctx.lineWidth = 1.3;
        ctx.beginPath();
        ctx.moveTo(383, 136); ctx.lineTo(393, 136);
        ctx.moveTo(388, 131); ctx.lineTo(388, 141);
        ctx.stroke();

        ctx.restore();
    }
};

const ellipticDenseAll = [].concat(ellipticTop, ellipticBand, ellipticCore, ellipticDense, ellipticLyr, ellipticBlob, ellipticRight, ellipticRightDense);
const ellipticSparseAll = [].concat(ellipticLow, ellipticLeft, ellipticSparse, ellipticRightSparse);
const hyperbolicAll = [].concat(hyperbolicBand, hyperbolicDense, hyperbolicScatter);

new Chart(document.getElementById('chart'), {
    type: 'scatter',
    data: {
        datasets: [
            curve(curveInf, '#5a5a5a', 1.6),
            curve(curve5, '#5a5a5a', 1.6),
            curve(curve3, '#5a5a5a', 1.6),
            curve(curve2, '#b9b9b9', 1.8),
            curve(curve1, '#111', 1.4),
            curve(curve08Solid, '#111', 1.4),
            curve(curve06Solid, '#111', 1.4),
            curve(curve08Dotted, '#111', 1.6, [1.6, 3.6]),
            curve(curve06Dotted, '#111', 1.6, [1.6, 3.6]),
            arrow(arrowInf, '#6e6e6e', true),
            arrow(arrow5, '#8a8a8a', true),
            arrow(arrow3, '#5e5e5e', true),
            arrow(arrow2, '#c4c4c4', false),
            {
                data: toXY(hyperbolicAll), pointStyle: 'cross', pointRadius: 4.5,
                borderColor: '#7d7d7d', pointBorderWidth: 1.5, order: 1
            },
            dots(ellipticDenseAll, 2.0),
            dots(ellipticSparseAll, 1.65)
        ]
    },
    options: {
        responsive: false,
        animation: false,
        devicePixelRatio: 1,
        layout: { padding: { left: 72, right: 12, top: 54, bottom: 56 } },
        plugins: { legend: { display: false }, tooltip: { enabled: false } },
        scales: {
            x: {
                type: 'linear', min: 5, max: 79,
                ticks: { display: false },
                grid: { color: '#e4e4e4', lineWidth: 1, drawTicks: false },
                border: { display: false },
                afterBuildTicks: s => { s.ticks = gridV.map(v => ({ value: v })); },
                afterFit: s => { s.height = 0; }
            },
            y: {
                type: 'linear', min: 0, max: 180,
                ticks: { display: false },
                grid: { color: '#e4e4e4', lineWidth: 1, drawTicks: false },
                border: { display: false },
                afterBuildTicks: s => { s.ticks = gridE.map(v => ({ value: v })); },
                afterFit: s => { s.width = 0; }
            }
        }
    },
    plugins: [decorations]
});
</script>
</body>
</html>
